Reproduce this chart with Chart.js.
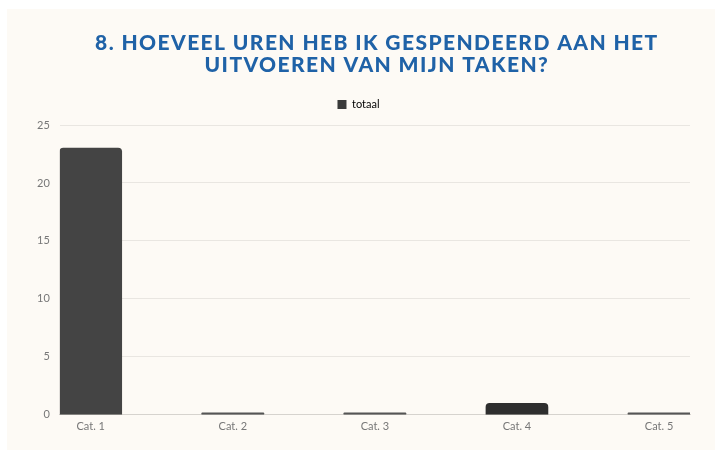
<!DOCTYPE html>
<html>
<head>
<meta charset="utf-8">
<script src="https://cdn.jsdelivr.net/npm/chart.js@4.4.1/dist/chart.umd.min.js"></script>
<style>
  html, body { margin: 0; padding: 0; background: #ffffff; }
  #wrap { position: absolute; left: 7px; top: 9px; width: 708px; height: 441px; background: #fdfaf5; }
  canvas { display: block; }
</style>
</head>
<body>
<div id="wrap"><canvas id="c" width="708" height="441"></canvas></div>
<script>
const titleLines = ["8. HOEVEEL UREN HEB IK GESPENDEERD AAN HET", "UITVOEREN VAN MIJN TAKEN?"];
const categories = ["Cat. 1", "Cat. 2", "Cat. 3", "Cat. 4", "Cat. 5"];
const seriesName = "totaal";
const totaal = [23, 0, 0, 1, 0];
const yTicks = [0, 5, 10, 15, 20, 25];
const barColors = ["#444444", "#555555", "#555555", "#2e2e2e", "#555555"];

const points = categories.map((c, i) => ({ x: i, y: totaal[i] }));

// Title drawn centred over the plot area (as in the reference)
const centredTitle = {
  id: 'centredTitle',
  afterDraw(chart) {
    const ctx = chart.ctx;
    const area = chart.chartArea;
    const cx = (area.left + area.right) / 2 + 2;
    ctx.save();
    ctx.fillStyle = '#1f62a7';
    ctx.font = '900 21px Lato';
    ctx.letterSpacing = '1.4px';
    ctx.textAlign = 'center';
    ctx.textBaseline = 'alphabetic';
    ctx.fillText(titleLines[0], cx, 41);
    ctx.fillText(titleLines[1], cx, 63);
    ctx.restore();
  }
};

// Extra gap below the legend
const legendGap = {
  id: 'legendGap',
  beforeLayout(chart) {
    const lg = chart.legend;
    if (lg && !lg._gapPatched) {
      const origFit = lg.fit.bind(lg);
      lg.fit = function () { origFit(); this.height += 5; };
      lg._gapPatched = true;
    }
  }
};

new Chart(document.getElementById('c'), {
  type: 'bar',
  data: {
    datasets: [{
      label: seriesName,
      data: points,
      backgroundColor: barColors,
      borderRadius: 4,
      borderSkipped: 'start',
      barThickness: 62,
      minBarLength: 2
    }]
  },
  plugins: [centredTitle, legendGap],
  options: {
    responsive: false,
    animation: false,
    events: [],
    layout: { padding: { left: 20, right: 25, top: 74, bottom: 12 } },
    plugins: {
      title: { display: false },
      legend: {
        display: true,
        labels: {
          boxWidth: 9,
          boxHeight: 9,
          color: '#888888',
          font: { family: 'Lato', size: 11 },
          padding: 16,
          generateLabels: (chart) => [{
            text: seriesName,
            fillStyle: '#3a3a3a',
            strokeStyle: '#3a3a3a',
            lineWidth: 0,
            datasetIndex: 0
          }]
        }
      },
      tooltip: { enabled: false }
    },
    scales: {
      x: {
        type: 'linear',
        offset: false,
        min: -0.218,
        max: 4.218,
        afterBuildTicks: (s) => { s.ticks = categories.map((c, i) => ({ value: i })); },
        ticks: {
          color: '#777777',
          font: { family: 'Lato', size: 11 },
          autoSkip: false,
          maxRotation: 0,
          padding: 5,
          callback: (v) => categories[v] !== undefined ? categories[v] : ''
        },
        grid: { display: false, drawTicks: false },
        border: { display: true, color: '#d6d3ce', width: 1 }
      },
      y: {
        min: 0,
        max: 25,
        afterBuildTicks: (s) => { s.ticks = yTicks.map(v => ({ value: v })); },
        ticks: {
          color: '#777777',
          font: { family: 'Lato', size: 11 },
          padding: 10
        },
        grid: { color: '#e9e6e1', drawTicks: false },
        border: { display: false }
      }
    }
  }
});
</script>
</body>
</html>
